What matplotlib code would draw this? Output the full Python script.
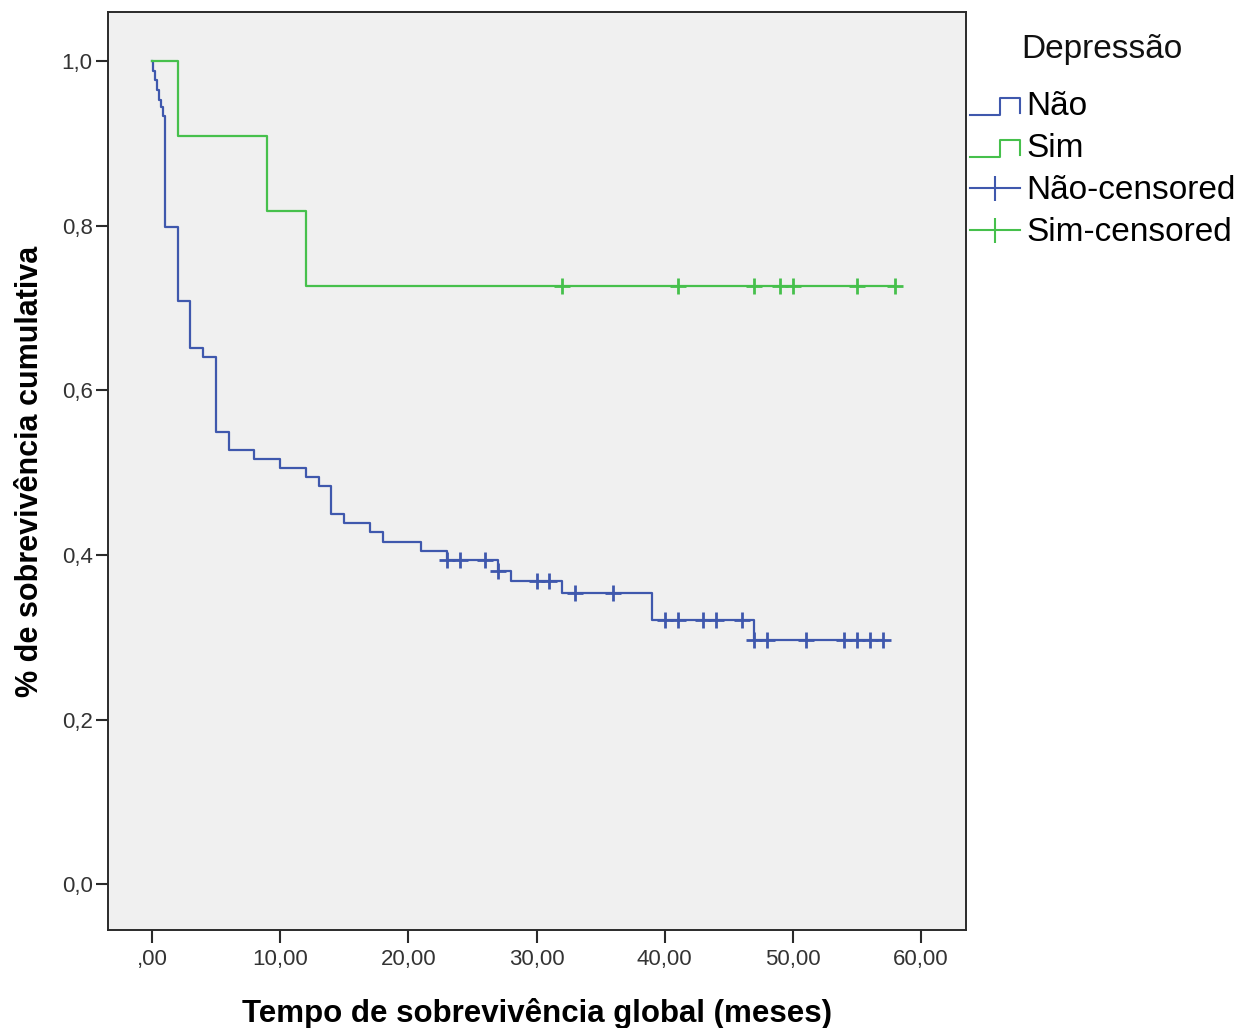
import matplotlib
matplotlib.use('Agg')
import matplotlib.pyplot as plt
import numpy as np
from matplotlib.lines import Line2D
from matplotlib.legend_handler import HandlerBase

plt.rcParams['font.family'] = ['Liberation Sans', 'DejaVu Sans']

# Kaplan-Meier estimates
nao_times = [0.0, 0.1, 0.25, 0.4, 0.55, 0.7, 0.85, 1.0, 2.0, 3.0, 4.0, 5.0, 6.0, 8.0,
             10.0, 12.0, 13.0, 14.0, 15.0, 17.0, 18.0, 21.0, 23.0, 27.0, 28.0, 32.0,
             39.0, 47.0]
nao_surv = [1.0, 0.988, 0.977, 0.965, 0.953, 0.944, 0.933, 0.799, 0.708, 0.652, 0.641,
            0.550, 0.528, 0.517, 0.506, 0.495, 0.484, 0.450, 0.439, 0.428, 0.416, 0.405,
            0.394, 0.381, 0.368, 0.354, 0.321, 0.297]
nao_end = 57.0
nao_censored = [23, 24, 26, 27, 30, 31, 33, 36, 40, 41, 43, 44, 46, 47, 48, 51, 54, 55, 56, 57]

sim_times = [0.0, 2.0, 9.0, 12.0]
sim_surv = [1.0, 0.909, 0.818, 0.727]
sim_end = 58.0
sim_censored = [32, 41, 47, 49, 50, 55, 58]

x_ticks = [0, 10, 20, 30, 40, 50, 60]
y_ticks = [0.0, 0.2, 0.4, 0.6, 0.8, 1.0]

blue = '#3f58ad'
green = '#46c04c'
dark = '#2a2a2a'


def surv_at(times, surv, t):
    idx = np.searchsorted(times, t, side='right') - 1
    return np.asarray(surv)[idx]


class StepHandler(HandlerBase):
    # little step icon used by SPSS for the survival lines
    def create_artists(self, legend, orig_handle, xdescent, ydescent,
                       width, height, fontsize, trans):
        x0 = -xdescent
        y0 = -ydescent
        xs = [x0, x0 + width * 0.6, x0 + width * 0.6, x0 + width, x0 + width]
        ys = [y0 + height * 0.0, y0 + height * 0.0, y0 + height * 0.75,
              y0 + height * 0.75, y0 + height * 0.1]
        ln = Line2D(xs, ys, color=orig_handle.get_color(), lw=1.5, transform=trans)
        return [ln]


fig = plt.figure(figsize=(12.41, 10.28), dpi=100)
ax = fig.add_axes([0.087, 0.0953, 0.6914, 0.893])
ax.set_facecolor('#f0f0f0')

for times, surv, end, cens, col in [
    (nao_times, nao_surv, nao_end, nao_censored, blue),
    (sim_times, sim_surv, sim_end, sim_censored, green),
]:
    xs = list(times) + [end]
    ys = list(surv) + [surv[-1]]
    ax.step(xs, ys, where='post', color=col, lw=1.6)
    cy = surv_at(times, surv, np.array(cens, dtype=float))
    ax.plot(cens, cy, ls='none', marker='+', ms=12, mew=2.0, color=col)

ax.set_xlim(-3.43, 63.5)
ax.set_ylim(-0.0553, 1.0595)
ax.set_xticks(x_ticks)
ax.set_xticklabels([(',00' if v == 0 else ('%.2f' % v).replace('.', ',')) for v in x_ticks])
ax.set_yticks(y_ticks)
ax.set_yticklabels([('%.1f' % v).replace('.', ',') for v in y_ticks])

for s in ax.spines.values():
    s.set_color(dark)
    s.set_linewidth(1.4)
ax.tick_params(axis='x', length=9, width=1.5, color=dark, pad=5,
               labelsize=16, labelcolor='#333333')
ax.tick_params(axis='y', length=9, width=1.5, color=dark, pad=2,
               labelsize=16, labelcolor='#333333')

ax.set_xlabel('Tempo de sobrevivência global (meses)', fontsize=22.5,
              fontweight='bold', labelpad=20)
ax.set_ylabel('% de sobrevivência cumulativa', fontsize=22,
              fontweight='bold', labelpad=12)

h_nao = Line2D([], [], color=blue)
h_sim = Line2D([], [], color=green)
h_nao_c = Line2D([], [], color=blue, lw=1.5, marker='|', ms=18, mew=1.5)
h_sim_c = Line2D([], [], color=green, lw=1.5, marker='|', ms=18, mew=1.5)

leg = fig.legend([h_nao, h_sim, h_nao_c, h_sim_c],
                 ['Não', 'Sim', 'Não-censored', 'Sim-censored'],
                 loc='upper left', bbox_to_anchor=(0.7816, 0.911), frameon=False,
                 fontsize=24, numpoints=1,
                 handlelength=1.5, handletextpad=0.2, labelspacing=0.33,
                 borderaxespad=0, borderpad=0,
                 handler_map={h_nao: StepHandler(), h_sim: StepHandler()})
fig.text(0.888, 0.952, 'Depressão', fontsize=24, ha='center', va='center',
         color='#111111')

fig.savefig('out.png', dpi=100)
